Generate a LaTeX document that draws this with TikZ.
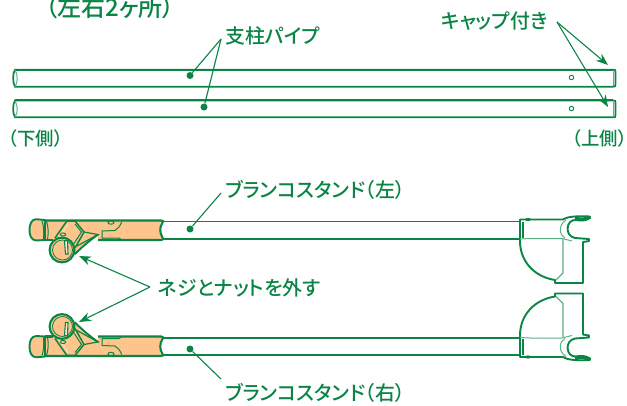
\documentclass[tikz,border=0pt]{standalone}
\usepackage{fontspec}
\usetikzlibrary{arrows.meta}
\newfontfamily\jpfont[RawFeature={+palt}]{Noto Sans CJK JP Medium}
\definecolor{gr}{HTML}{0A8545}
\definecolor{og}{HTML}{FDC48C}
\definecolor{lgr}{HTML}{5DB285}
\newcommand{\standleft}{%
  % barrel fill and outline
  \fill[og] (45,220.5) -- (161,220.5) .. controls (159.5,226) and (159.5,234) .. (162,240) -- (98,240) -- (98,235) -- (75,254) -- (50,240) -- (45,240) -- cycle;
  \draw[gr,line width=2.1,line join=round] (45,220.5) -- (161,220.5) .. controls (163.5,220.5) and (163.5,221.5) .. (162.5,222.5) .. controls (159.5,227) and (159.5,233) .. (162.5,237.5) .. controls (163.5,239) and (163.5,240) .. (161,240) -- (98,240);
  \draw[gr,line width=2.1] (45,240) -- (53,240);
  % cap
  \draw[body] (45,220) -- (36,219.2) .. controls (31,219.5) and (29.5,225) .. (29.5,230) .. controls (29.5,235) and (31,240) .. (36,240.5) -- (45,240) -- cycle;
  \draw[thin1] (42,221) .. controls (44,227) and (44,233) .. (43.5,239);
  \draw[thin1] (46.5,221) .. controls (48.5,227) and (48.5,233) .. (47.5,240);
  % tail
  \draw[gr,line width=1.2] (84,232) -- (98,234.6) -- (77,246);
  \draw[gr,line width=1.9,line cap=round] (75,254) .. controls (82,247) and (90,240) .. (98,234.6);
  % diamond
  \draw[gr,line width=1.5,line join=round] (55,238) -- (66.7,221.3) -- (75,221) -- (84,232) -- (75,248);
  \draw[white!45!og,line width=1] (58.5,239) -- (68,224);
  \draw[thin1] (75,224) -- (81.5,232) -- (73,245);
  \draw[thin1] (63,234.5) ellipse (2.6 and 1.6);
  % slot
  \draw[thin1] (119,238) -- (102,238) -- (102,231) -- (115,230.5) .. controls (118,229) and (120,226) .. (121.7,222);
  \draw[thin1] (119,238) -- (121.7,240);
  \draw[thin1] (111,222.5) ellipse (3 and 1.7);
  % knob
  \draw[gr,line width=2.1,fill=og] (62,250) circle (12.4);
  \draw[gr,line width=.8] (62.5,250) circle (10);
  \draw[gr,line width=1.1,fill=og!35] (64.5,241) -- (67.5,240.5) -- (68,254) -- (65.5,254) -- cycle;
}
\newcommand{\standright}{%
  \draw[body,fill=white] (520,219.5) -- (563,219.5) .. controls (568,216) and (580,216) .. (590,216.5) -- (590,218) .. controls (586,221) and (580,221) .. (576,220) .. controls (566,219) and (564,236) .. (575,238) -- (589,239) -- (589,241) -- (583,242) -- (583,283) -- (555,283) -- (555,280) .. controls (535,277) and (520,262) .. (520,241) -- cycle;
  \draw[gr,line width=2.6] (575,218) .. controls (580,219) and (586,219) .. (590,217.3);
  \draw[gr,line width=1.7] (523,222) -- (523,238);
  \draw[lgr,line width=1] (520,239) -- (530,238.5) -- (562,238.5) -- (572,241);
  \draw[lgr,line width=1.1] (563,239) -- (563,273) -- (556,280);
  \draw[lgr,line width=1] (566,220) .. controls (558,225) and (559,235) .. (565,238);
  \fill[gr] (528,219.5) ellipse (3 and 1.6);
}
\tikzset{
  body/.style={gr,line width=1.9,fill=og,line join=round},
  thin1/.style={gr,line width=1},
  pipe/.style={gr,line width=1.7,fill=white},
  lead/.style={gr,line width=1.1},
  arr/.style={gr,line width=1.1,-{Stealth[length=12pt,width=9pt]}},
  dot/.style={circle,fill=gr,inner sep=0,minimum size=7pt},
  hole/.style={circle,draw=gr,line width=.9,fill=white,inner sep=0,minimum size=4.5pt},
  lab/.style={text=gr,inner sep=0,anchor=west,font=\jpfont\fontsize{19.9}{19.9}\selectfont},
  lab2/.style={lab,font=\jpfont\fontsize{18.4}{18.4}\selectfont},
  lab3/.style={lab,font=\jpfont\fontsize{24}{24}\selectfont}
}
\begin{document}
\begin{tikzpicture}[x=1pt,y=-1pt]
\useasboundingbox[clip] (0,0) rectangle (627,405);
\fill[white] (0,0) rectangle (627,405);
% labels
\node[lab3] (title) at (45,7) {（左右2ヶ所）};
\node[lab] (shichu) at (225,36) {支柱パイプ};
\node[lab] (cap) at (441,21) {キャップ付き};
\node[lab2] (shita) at (8,139) {（下側）};
\node[lab2] (ue) at (572,139) {（上側）};
\node[lab] (standL) at (225,190) {ブランコスタンド（左）};
\node[lab] (neji) at (158,288) {ネジとナットを外す};
\node[lab] (standR) at (225,393) {ブランコスタンド（右）};
% pipes
\draw[pipe] (15,69.7) -- (613,69.7) .. controls (615.5,69.7) and (615.5,70) .. (615.5,72) -- (615.5,84) .. controls (615.5,86.5) and (615,86.7) .. (613,86.7) -- (15,86.7) .. controls (12.5,83) and (12.5,73) .. (15,69.7) -- cycle;
\draw[pipe] (15,100.4) -- (613,100.4) .. controls (615.5,100.4) and (615.5,101) .. (615.5,103) -- (615.5,115) .. controls (615.5,117.3) and (615,117.3) .. (613,117.3) -- (15,117.3) .. controls (12.5,114) and (12.5,104) .. (15,100.4) -- cycle;
\draw[gr,line width=2.3] (15,69.7) -- (613,69.7);
\draw[gr,line width=2] (15,100.4) -- (613,100.4);
\draw[lgr,line width=1] (15,70) .. controls (18,74) and (18,83) .. (15,86.5);
\draw[lgr,line width=1] (15,101) .. controls (18,105) and (18,113) .. (15,117);
\draw[lgr,line width=1] (613,71) -- (613,85.5);
\draw[lgr,line width=1] (613,102) -- (613,116);
\node[hole] (h1) at (571.5,77.5) {};
\node[hole] (h2) at (571.5,108.5) {};
% stand pipes
\draw[gr,line width=1.6] (163,221.5) -- (524,221.5) (163,238.7) -- (524,238.7);
\draw[gr,line width=1.6] (163,338) -- (524,338) (163,355) -- (524,355);
% fittings
\standleft \standright
\begin{scope}[shift={(0,576.5)},yscale=-1]
\standleft \standright
\end{scope}
% leaders
\node[dot] (d1) at (190,75.5) {};
\node[dot] (d2) at (204,107) {};
\node[dot] (d3) at (190,229) {};
\node[dot] (d4) at (190,349) {};
\coordinate (a1) at (221,39);
\coordinate (a2) at (557,22);
\coordinate (a3) at (221,193);
\coordinate (a4) at (150,287);
\coordinate (a5) at (221,379);
\coordinate (t1) at (608,65);
\coordinate (t2) at (608,107);
\coordinate (t3) at (79,256);
\coordinate (t4) at (79,322);
\draw[lead] (a1) -- (d1);
\draw[lead] (a1) -- (d2);
\draw[lead] (a3) -- (d3);
\draw[lead] (a5) -- (d4);
\draw[arr] (a2) -- (t1);
\draw[arr] (a2) -- (t2);
\draw[arr] (a4) -- (t3);
\draw[arr] (a4) -- (t4);
\end{tikzpicture}
\end{document}
